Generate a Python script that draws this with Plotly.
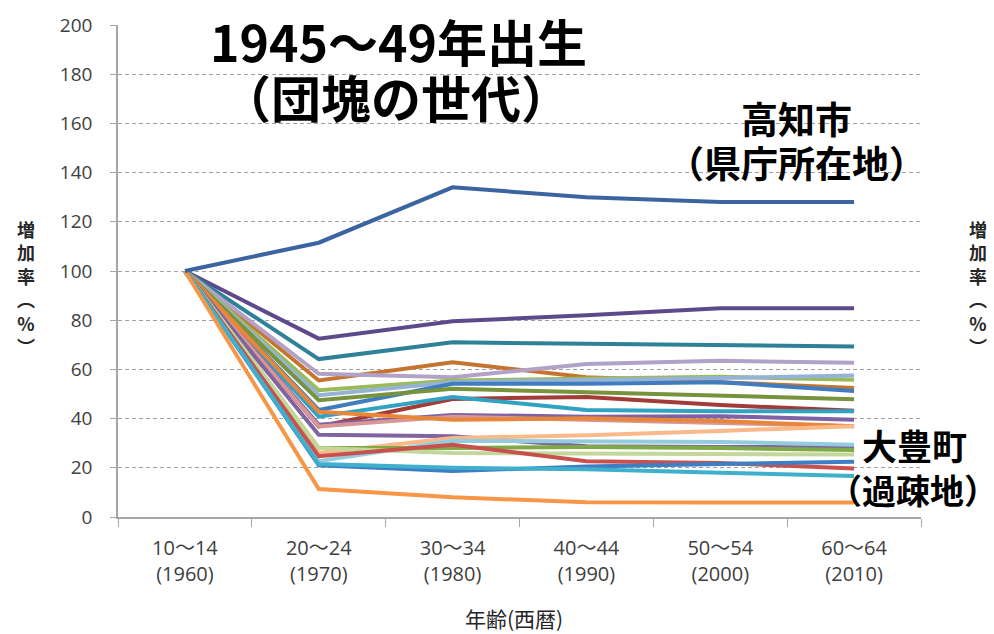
import plotly.graph_objects as go

categories = ["10～14<br>(1960)", "20～24<br>(1970)", "30～34<br>(1980)",
              "40～44<br>(1990)", "50～54<br>(2000)", "60～64<br>(2010)"]

# growth rate (%) per municipality, cohort born 1945-49
series_values = [
    [100, 111.5, 134.0, 130.0, 128.0, 128.0],   # 高知市
    [100, 72.5, 79.6, 82.0, 84.9, 84.9],
    [100, 64.2, 71.0, 70.5, 70.0, 69.3],
    [100, 55.5, 62.9, 56.8, 54.8, 52.4],
    [100, 58.2, 56.8, 62.2, 63.5, 62.7],
    [100, 51.5, 55.5, 56.2, 57.0, 55.8],
    [100, 49.5, 54.8, 55.5, 56.5, 57.5],
    [100, 43.5, 54.2, 54.2, 54.8, 51.2],
    [100, 47.5, 52.1, 50.8, 49.5, 47.9],
    [100, 36.8, 48.0, 48.8, 45.5, 43.2],
    [100, 40.8, 48.8, 43.5, 43.0, 43.0],
    [100, 37.5, 41.5, 40.8, 41.0, 39.5],
    [100, 36.8, 40.8, 39.5, 38.0, 36.9],
    [100, 42.8, 39.5, 40.1, 39.0, 36.9],
    [100, 33.4, 32.8, 28.8, 28.5, 28.3],
    [100, 26.0, 32.1, 33.2, 35.0, 36.9],
    [100, 22.7, 31.0, 30.8, 30.5, 29.4],
    [100, 28.0, 28.0, 28.5, 28.0, 27.2],
    [100, 28.0, 26.0, 25.7, 25.5, 25.4],
    [100, 24.7, 29.4, 22.7, 22.0, 19.7],
    [100, 21.0, 18.7, 20.5, 21.5, 22.5],
    [100, 21.5, 20.0, 19.4, 18.0, 16.7],
    [100, 11.4, 8.0, 6.0, 5.9, 5.9],
]
series_colors = [
    "#3B64A0", "#5E4A8A", "#2E8196", "#C5752F", "#B3A2C7", "#9BBB59",
    "#95B3D7", "#3F7CC0", "#77933C", "#A33B38", "#31A3C2", "#7F62A6",
    "#D99694", "#E8873A", "#8064A2", "#FAB98A", "#93CDDD", "#7FA946",
    "#C3D69B", "#C8504D", "#3C7FC4", "#3FB0CC", "#F79646",
]
y_ticks = [0, 20, 40, 60, 80, 100, 120, 140, 160, 180, 200]

fig = go.Figure()
order = list(range(1, len(series_values))) + [0]
for i in order:
    fig.add_trace(go.Scatter(
        x=categories, y=series_values[i], mode="lines",
        line=dict(color=series_colors[i], width=4),
        showlegend=False, hoverinfo="skip"))

W, H = 994, 634
L, R, T, B = 118, 73, 20, 117
pw, ph = W - L - R, H - T - B

def px(x):
    return (x - L) / pw

def py(y):
    return (H - B - y) / ph

cjk = "Noto Sans CJK JP"
num = "Open Sans, Noto Sans CJK JP"

anns = []
def txt(x, y, s, size, bold=True, color="#000000"):
    anns.append(dict(x=px(x), y=py(y), xref="paper", yref="paper",
                     text=(f"<b>{s}</b>" if bold else s), showarrow=False,
                     xanchor="center", yanchor="middle", align="center",
                     font=dict(family=cjk, size=size, color=color)))

txt(398, 35, "1945～49年出生", 50)
txt(396, 92, "（団塊の世代）", 50)
txt(796, 114, "高知市", 37)
txt(796, 158, "（県庁所在地）", 37)
txt(914, 444, "大豊町", 35)
txt(913, 489, "（過疎地）", 34)

vert = "増<br>加<br>率<br>︵<br>%<br>︶"
for xx in (26, 978):
    anns.append(dict(x=px(xx), y=py(285), xref="paper", yref="paper",
                     text=f"<b>{vert}</b>", showarrow=False, xanchor="center",
                     yanchor="middle", align="center",
                     font=dict(family=cjk, size=18, color="#262626")))
anns.append(dict(x=px(514), y=py(619), xref="paper", yref="paper",
                 text="年齢(西暦)", showarrow=False, xanchor="center",
                 yanchor="middle",
                 font=dict(family=cjk, size=21, color="#262626")))

fig.update_layout(
    width=W, height=H,
    margin=dict(l=L, r=R, t=T, b=B, pad=0),
    paper_bgcolor="white", plot_bgcolor="white",
    annotations=anns,
    xaxis=dict(type="category", range=[-0.5, 5.5], tickson="boundaries",
               ticks="outside", ticklen=8, tickcolor="#A6A6A6",
               showline=True, linecolor="#A6A6A6", linewidth=1.5,
               showgrid=False, zeroline=False, ticklabelstandoff=12,
               tickfont=dict(family=num, size=20, color="#404040")),
    yaxis=dict(range=[0, 200], tickvals=y_ticks, ticks="outside", ticklen=6,
               tickcolor="#A6A6A6", showline=True, linecolor="#A6A6A6",
               linewidth=1.5, showgrid=True, gridcolor="#A0A0A0",
               griddash="4px,3px", gridwidth=1, zeroline=False,
               ticklabelstandoff=14,
               tickfont=dict(family=num, size=19, color="#404040")),
)

fig.write_html("out.html", config={"displayModeBar": False},
               post_script="document.body.style.margin='0px';")
